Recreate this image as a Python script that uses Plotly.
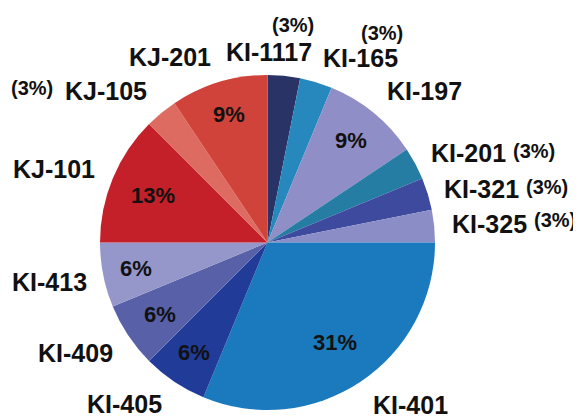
import math
import plotly.graph_objects as go

# ---- data ----
labels = ["KI-1117", "KI-165", "KI-197", "KI-201", "KI-321", "KI-325", "KI-401",
          "KI-405", "KI-409", "KI-413", "KJ-101", "KJ-105", "KJ-201"]
counts = [1, 1, 3, 1, 1, 1, 10, 2, 2, 2, 4, 1, 3]

# ---- style ----
colors = ["#2a3366", "#2788bd", "#8f8ec6", "#257da4", "#3e4a9e", "#8a8dc6", "#1a7abd",
          "#213b99", "#5860a8", "#9597ca", "#c4202a", "#de6b61", "#d0433a"]

# the page body has an 8px margin, so the figure is offset by 8px
OFF = 8
W, H = 581 - OFF, 418 - OFF
CX, CY, R = 267.5, 242.5, 167.5

# label positions (reference pixel centres) for the category names
name_pos = {
    "KI-1117": (269, 52), "KI-165": (360, 58), "KI-197": (424, 91),
    "KI-201": (468, 153), "KI-321": (481, 189), "KI-325": (489, 224),
    "KI-401": (411, 405), "KI-405": (124, 404), "KI-409": (75, 353),
    "KI-413": (49, 282), "KJ-101": (54, 169), "KJ-105": (106, 91),
    "KJ-201": (170, 57),
}
# positions of the separate "(x%)" labels for the small slices
small_pos = {
    "KI-1117": (293, 25), "KI-165": (382, 33), "KI-201": (534, 151),
    "KI-321": (547, 187), "KI-325": (555, 220), "KJ-105": (32, 88),
}
# radial fraction for inside percentage labels
inside_frac = {"KI-197": 0.79, "KI-401": 0.72, "KI-405": 0.79, "KI-409": 0.77,
               "KI-413": 0.80, "KJ-101": 0.74, "KJ-201": 0.80}

FONT = "Liberation Sans, Arial, sans-serif"

def px2paper(x, y):
    return (x - OFF) / W, 1 - (y - OFF) / H

total = sum(counts)
x0, y1 = px2paper(CX - R, CY - R)
x1, y0 = px2paper(CX + R, CY + R)
fig = go.Figure(go.Pie(
    labels=labels, values=counts, sort=False, direction="clockwise", rotation=0,
    marker=dict(colors=colors, line=dict(width=0)),
    textinfo="none", showlegend=False,
    domain=dict(x=[x0, x1], y=[y0, y1]),
))

annotations = []
cum = 0
for lab, v in zip(labels, counts):
    pct = int(v / total * 100 + 0.5)
    mid = (cum + v / 2) / total * 2 * math.pi
    cum += v
    x, y = px2paper(*name_pos[lab])
    annotations.append(dict(x=x, y=y, xref="paper", yref="paper", text=f"<b>{lab}</b>",
                            showarrow=False, xanchor="center", yanchor="middle",
                            font=dict(family=FONT, size=25, color="#111111")))
    if lab in small_pos:
        x, y = px2paper(*small_pos[lab])
        annotations.append(dict(x=x, y=y, xref="paper", yref="paper", text=f"<b>({pct}%)</b>",
                                showarrow=False, xanchor="center", yanchor="middle",
                                font=dict(family=FONT, size=20, color="#111111")))
    else:
        f = inside_frac[lab]
        px = CX + f * R * math.sin(mid)
        py = CY - f * R * math.cos(mid)
        x, y = px2paper(px, py)
        annotations.append(dict(x=x, y=y, xref="paper", yref="paper", text=f"<b>{pct}%</b>",
                                showarrow=False, xanchor="center", yanchor="middle",
                                font=dict(family=FONT, size=22, color="#111111")))

fig.update_layout(width=W, height=H, margin=dict(l=0, r=0, t=0, b=0),
                  paper_bgcolor="white", plot_bgcolor="white", annotations=annotations)
fig.write_html("out.html")
